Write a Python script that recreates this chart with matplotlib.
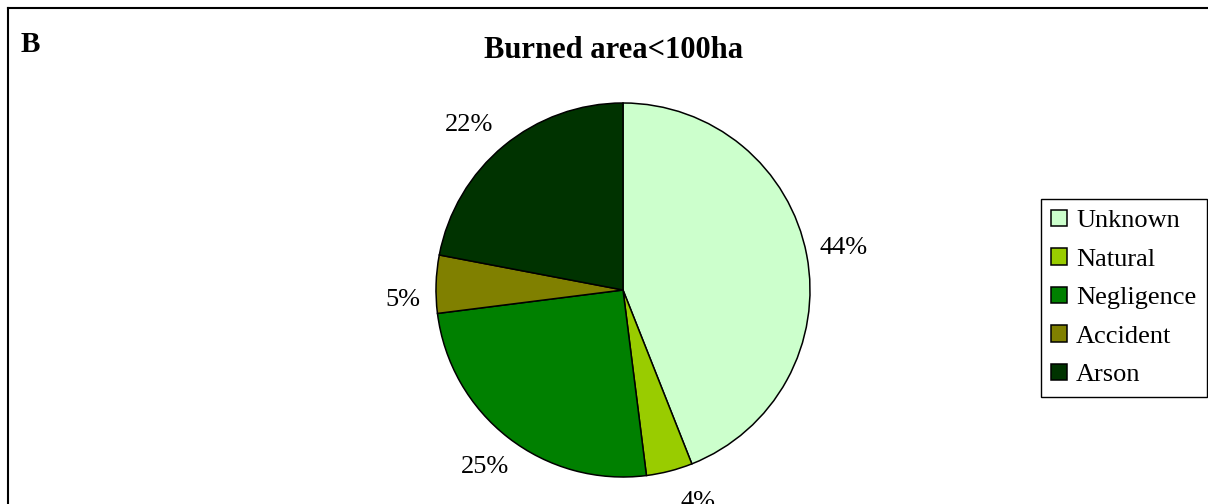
import matplotlib.pyplot as plt
from matplotlib.lines import Line2D

causes = ["Unknown", "Natural", "Negligence", "Accident", "Arson"]
shares = [44, 4, 25, 5, 22]
colors = ["#CCFFCC", "#99CC00", "#008000", "#808000", "#003300"]

plt.rcParams["font.family"] = ["Liberation Serif", "DejaVu Serif"]

fig = plt.figure(figsize=(12.08, 5.04), dpi=100)

# pie axes: centre ~ (623, 290) px, radius ~187 px
cx, cy, r = 623 / 1208, 1 - 290 / 504, 187
ax = fig.add_axes([cx - r / 1208, cy - r / 504, 2 * r / 1208, 2 * r / 504])

wedges, texts, autotexts = ax.pie(
    shares,
    colors=colors,
    startangle=90,
    counterclock=False,
    autopct="%1.0f%%",
    pctdistance=1.2,
    wedgeprops={"edgecolor": "black", "linewidth": 1.1},
    textprops={"fontsize": 19},
)
for t in autotexts:
    t.set_clip_on(False)
# small nudges so the labels sit where the original chart puts them
x, y = autotexts[1].get_position()
autotexts[1].set_position((x + 0.1, y + 0.03))
x, y = autotexts[3].get_position()
autotexts[3].set_position((x + 0.02, y - 0.09))
x, y = autotexts[4].get_position()
autotexts[4].set_position((x - 0.06, y - 0.04))
ax.set_xlim(-1, 1)
ax.set_ylim(-1, 1)

fig.text(614 / 1208, 1 - 50 / 504, "Burned area<100ha", ha="center", va="center",
         fontsize=22, fontweight="bold")
fig.text(21 / 1208, 1 - 45 / 504, "B", ha="left", va="center",
         fontsize=21, fontweight="bold")

leg = fig.legend(
    wedges, causes,
    loc="center right",
    bbox_to_anchor=(1207 / 1208, 1 - 298 / 504),
    fontsize=19,
    frameon=True,
    fancybox=False,
    framealpha=1,
    edgecolor="black",
    handlelength=0.6,
    handleheight=0.6,
    handletextpad=0.35,
    labelspacing=0.6,
    borderpad=0.4,
    borderaxespad=0,
)
leg.get_frame().set_linewidth(1.0)

# outer frame (top and left edges visible)
fig.add_artist(Line2D([8 / 1208, 8 / 1208], [0, 1 - 8 / 504], color="black", lw=1.5,
                      transform=fig.transFigure))
fig.add_artist(Line2D([8 / 1208, 1], [1 - 8 / 504, 1 - 8 / 504], color="black", lw=1.5,
                      transform=fig.transFigure))

fig.savefig("out.png", dpi=100)
